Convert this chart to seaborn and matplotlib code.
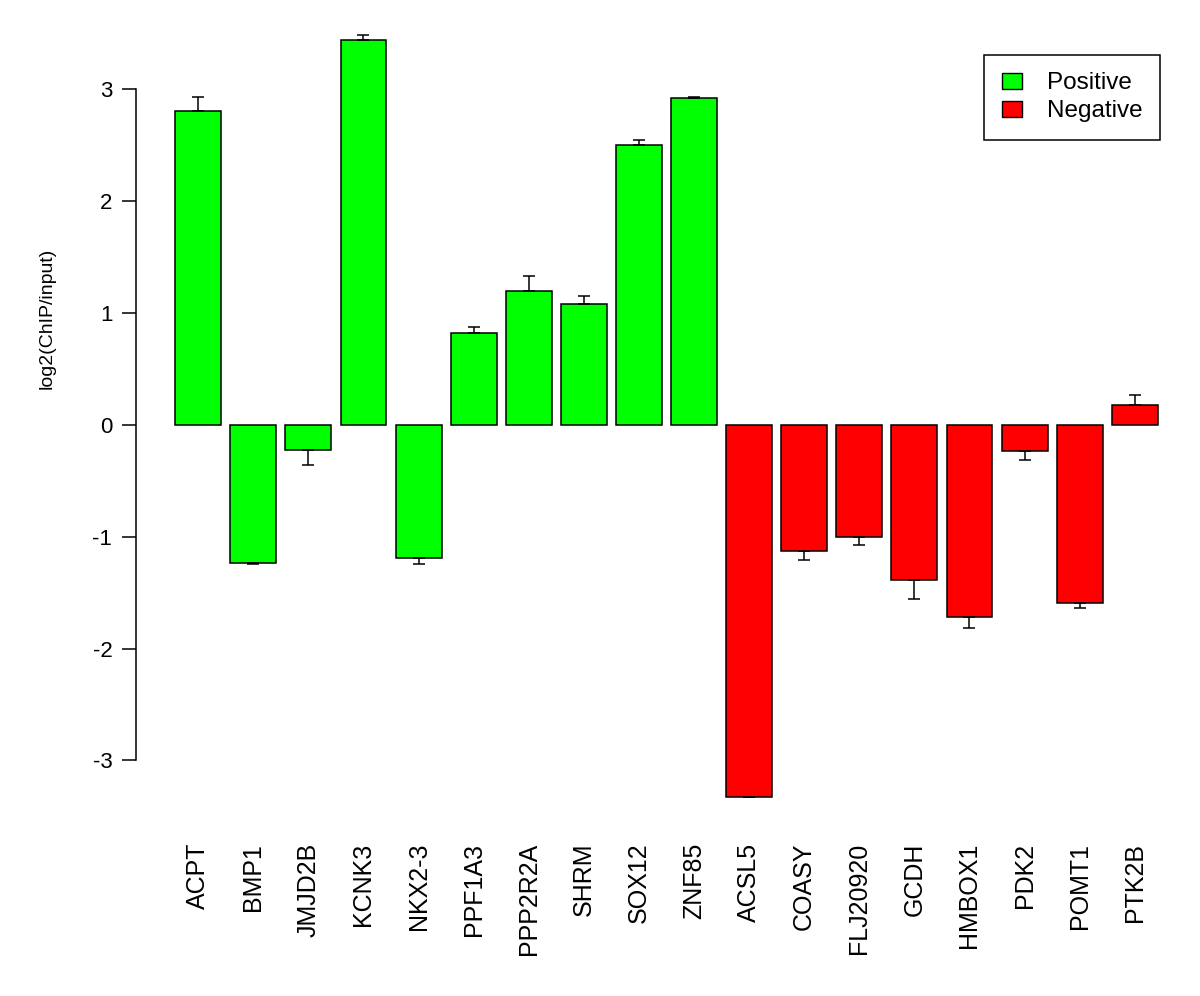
import matplotlib
matplotlib.use("Agg")
import matplotlib.pyplot as plt
import pandas as pd
import seaborn as sns
from matplotlib.patches import Patch

genes = ['ACPT', 'BMP1', 'JMJD2B', 'KCNK3', 'NKX2-3', 'PPF1A3', 'PPP2R2A', 'SHRM',
         'SOX12', 'ZNF85', 'ACSL5', 'COASY', 'FLJ20920', 'GCDH', 'HMBOX1', 'PDK2',
         'POMT1', 'PTK2B']
groups = ['Positive'] * 10 + ['Negative'] * 8
values = [2.81, -1.23, -0.22, 3.44, -1.19, 0.82, 1.20, 1.08,
          2.50, 2.92, -3.33, -1.13, -1.00, -1.39, -1.72, -0.23,
          -1.59, 0.18]
errors = [0.12, 0.015, 0.14, 0.05, 0.055, 0.055, 0.135, 0.07,
          0.045, 0.01, 0.0, 0.08, 0.07, 0.165, 0.095, 0.08,
          0.045, 0.085]
colors = {'Positive': '#00ff00', 'Negative': '#ff0000'}

df = pd.DataFrame({'gene': genes, 'value': values, 'group': groups})

plt.rcParams['font.family'] = ['Liberation Sans', 'DejaVu Sans']

fig = plt.figure(figsize=(12, 9.96), dpi=100)
ax = fig.add_axes([0.1133, 0.1691, 0.8842, 0.8253])

sns.barplot(data=df, x='gene', y='value', hue='group', palette=colors,
            dodge=False, width=0.833, edgecolor='black', linewidth=1.1,
            saturation=1, legend=False, ax=ax)

# one-sided error bars pointing away from zero
lower = [e if v < 0 else 0 for v, e in zip(values, errors)]
upper = [e if v >= 0 else 0 for v, e in zip(values, errors)]
ax.errorbar(x=range(len(genes)), y=values, yerr=[lower, upper], fmt='none',
            ecolor='black', elinewidth=1.1, capsize=4, capthick=1.1, zorder=3)

ax.set_xlim(-1.13, 18.13)
ax.set_ylim(-3.6, 3.75)
ax.set_yticks([-3, -2, -1, 0, 1, 2, 3])
ax.set_yticklabels(['-3', '-2', '-1', '0', '1', '2', '3'])
for s in ['top', 'right', 'bottom']:
    ax.spines[s].set_visible(False)
ax.spines['left'].set_bounds(-3, 3)
ax.spines['left'].set_linewidth(1.1)
ax.tick_params(axis='y', length=10, width=1.1, pad=7, labelsize=16)
ax.tick_params(axis='x', length=0, pad=11, labelsize=18, rotation=90)
ax.set_xlabel('')
ax.set_ylabel('log2(ChIP/input)', fontsize=14)
ax.yaxis.set_label_coords(-0.076, 0.62)

handles = [Patch(facecolor=colors['Positive'], edgecolor='black', label='Positive'),
           Patch(facecolor=colors['Negative'], edgecolor='black', label='Negative')]
leg = ax.legend(handles=handles, loc='upper right', bbox_to_anchor=(0.965, 0.94),
                fontsize=17.5, fancybox=False, edgecolor='black', framealpha=1,
                borderaxespad=0, handlelength=0.85, handleheight=0.6,
                handletextpad=1.0, labelspacing=0.25, borderpad=0.72)
leg.get_frame().set_linewidth(1.1)

fig.savefig('out.png', dpi=100)
